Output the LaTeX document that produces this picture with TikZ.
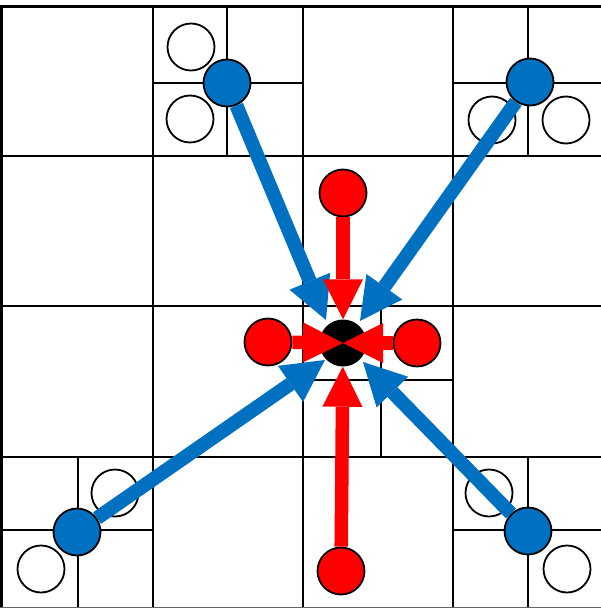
\documentclass[tikz,border=0pt]{standalone}
\usetikzlibrary{arrows.meta}
\definecolor{myblue}{RGB}{0,112,192}
\begin{document}
\begin{tikzpicture}[x=1pt,y=-1pt,
  gridline/.style={line width=1.1pt,black},
  frameline/.style={line width=3pt,black},
  ball/.style={circle,draw=black,line width=1.8pt,minimum size=47pt,inner sep=0pt},
  emptyball/.style={ball,fill=white},
  blueball/.style={ball,fill=myblue},
  redball/.style={ball,fill=red},
  hub/.style={circle,fill=black,minimum size=47pt,inner sep=0pt},
  redarrow/.style={draw=red,line width=13.5pt,-{Triangle[length=40pt,width=40pt,line width=0pt]}},
  bluearrow/.style={draw=myblue,line width=14pt,-{Triangle[length=42pt,width=44pt,line width=0pt]}}
]
\useasboundingbox (0,0) rectangle (601,608);
% main grid
\foreach \x in {153,303,453} \draw[gridline] (\x,6) -- (\x,607);
\foreach \y in {156,306,457} \draw[gridline] (2,\y) -- (601,\y);
% subdivisions
\draw[gridline] (227,6) -- (227,156) (153,83) -- (303,83);
\draw[gridline] (528,6) -- (528,156) (453,83) -- (601,83);
\draw[gridline] (78,457) -- (78,607) (2,530) -- (153,530);
\draw[gridline] (528,457) -- (528,607) (453,530) -- (601,530);
\draw[gridline] (381,306) -- (381,457) (303,380) -- (453,380);
% frame
\draw[frameline] (0,6) -- (601,6);
\draw[frameline] (1.5,6) -- (1.5,608);
\draw[line width=1.2pt,black!60] (0,607.4) -- (601,607.4);
% empty circles
\node[emptyball] (e1) at (191,47) {};
\node[emptyball] (e2) at (190,119) {};
\node[emptyball] (e3) at (492,120) {};
\node[emptyball] (e4) at (566,120) {};
\node[emptyball] (e5) at (115,493) {};
\node[emptyball] (e6) at (41,569) {};
\node[emptyball] (e7) at (489,493) {};
\node[emptyball] (e8) at (567,569) {};
% hub
\node[hub] (c) at (343,343) {};
% coloured nodes
\node[blueball] (btl) at (227,83) {};
\node[blueball] (btr) at (530,82) {};
\node[blueball] (bbl) at (77,532) {};
\node[blueball] (bbr) at (528,531) {};
\node[redball] (rt) at (343,193) {};
\node[redball] (rl) at (268,342) {};
\node[redball] (rr) at (417,343) {};
\node[redball] (rb) at (341,571) {};
% targets of the blue arrows
\coordinate (atl) at (326,320);
\coordinate (atr) at (360,321);
\coordinate (abl) at (325,360);
\coordinate (abr) at (363,362);
% arrows
\draw[bluearrow] (btl) -- (atl);
\draw[bluearrow] (btr) -- (atr);
\draw[bluearrow] (bbl) -- (abl);
\draw[bluearrow] (bbr) -- (abr);
\draw[redarrow] (rt) -- (c);
\draw[redarrow] (rb) -- (c);
\draw[redarrow] (rl) -- (c.center);
\draw[redarrow] (rr) -- (c.center);
\end{tikzpicture}
\end{document}
